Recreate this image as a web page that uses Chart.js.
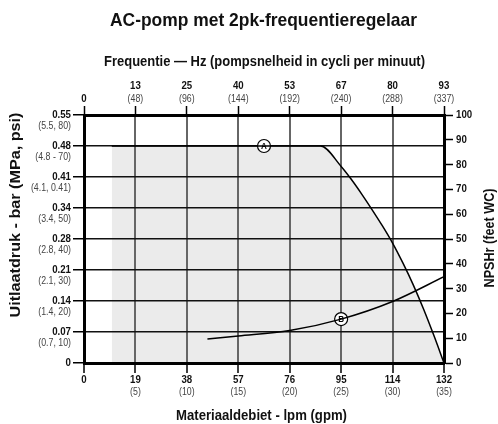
<!DOCTYPE html>
<html>
<head>
<meta charset="utf-8">
<script src="https://cdn.jsdelivr.net/npm/chart.js@4.4.0/dist/chart.umd.min.js"></script>
<style>
  html, body { margin: 0; padding: 0; background: #fff; }
  #wrap { width: 498px; height: 424px; }
</style>
</head>
<body>
<div id="wrap"><canvas id="myChart"></canvas></div>
<script>
const FONT = '"Liberation Sans", Arial, sans-serif';

// bottom axis is linear in gpm, labels show lpm with gpm underneath
const lpmLabels = ['0', '19', '38', '57', '76', '95', '114', '132'];
const gpmLabels = ['', '(5)', '(10)', '(15)', '(20)', '(25)', '(30)', '(35)'];
const hzLabels = ['0', '13', '25', '40', '53', '67', '80', '93'];
const cpmLabels = ['', '(48)', '(96)', '(144)', '(192)', '(240)', '(288)', '(337)'];
// left axis is linear in psi (0..80)
const barLabels = ['0', '0.07', '0.14', '0.21', '0.28', '0.34', '0.41', '0.48', '0.55'];
const mpaPsiLabels = ['', '(0.7, 10)', '(1.4, 20)', '(2.1, 30)', '(2.8, 40)', '(3.4, 50)', '(4.1, 0.41)', '(4.8 - 70)', '(5.5, 80)'];
const npshLabels = ['0', '10', '20', '30', '40', '50', '60', '70', '80', '90', '100'];

// curve A: outlet pressure (psi) vs flow (gpm)
const curveAx = [2.7, 23, 25, 26, 27, 28, 29, 30, 31, 32, 33, 34, 35];
const curveAy = [70, 70, 63.4, 59.2, 54.5, 49.5, 44.3, 38.7, 32.3, 25.3, 17.5, 9, 0];
// curve B: NPSHr (feet WC) vs flow (gpm)
const curveBx = [12, 15, 20, 25, 30, 35];
const curveBy = [9.7, 10.9, 13.1, 17.7, 24.8, 34.8];
// circled labels
const markerA = { x: 17.5, y: 70 };
const markerB = { x: 25, y: 17.7 };

const toPoints = (xs, ys) => xs.map((x, i) => ({ x: x, y: ys[i] }));

// condensed look: squeeze text horizontally
function drawText(c, text, x, y, font, squeeze, rot) {
    c.save();
    c.translate(x, y);
    if (rot) c.rotate(rot);
    c.scale(squeeze, 1);
    c.font = font;
    c.fillText(text, 0, 0);
    c.restore();
}
function fitText(c, text, x, y, font, width, rot) {
    c.font = font;
    drawText(c, text, x, y, font, width / c.measureText(text).width, rot);
}

const tickLabels = {
    id: 'tickLabels',
    afterDraw(chart) {
        const c = chart.ctx;
        const s = chart.scales;
        const bold = 'bold 11px ' + FONT;
        const small = '10px ' + FONT;
        const sq = 0.88;
        c.save();
        c.textBaseline = 'middle';
        // bottom
        c.textAlign = 'center';
        s.x.ticks.forEach((t, i) => {
            const px = s.x.getPixelForValue(t.value);
            c.fillStyle = '#111';
            drawText(c, lpmLabels[i], px, 380, bold, sq);
            c.fillStyle = '#444';
            drawText(c, gpmLabels[i], px, 392, small, sq);
        });
        // top
        s.x2.ticks.forEach((t, i) => {
            const px = s.x2.getPixelForValue(t.value);
            c.fillStyle = '#111';
            drawText(c, hzLabels[i], px, i === 0 ? 99 : 86, bold, sq);
            c.fillStyle = '#444';
            drawText(c, cpmLabels[i], px, 99, small, sq);
        });
        // left
        c.textAlign = 'right';
        s.y.ticks.forEach((t, i) => {
            const py = s.y.getPixelForValue(t.value);
            c.fillStyle = '#111';
            drawText(c, barLabels[i], 71, py, bold, sq);
            c.fillStyle = '#444';
            drawText(c, mpaPsiLabels[i], 71, py + 11, small, sq);
        });
        // right
        c.textAlign = 'left';
        s.y1.ticks.forEach((t, i) => {
            const py = s.y1.getPixelForValue(t.value);
            c.fillStyle = '#111';
            drawText(c, npshLabels[i], 456, py, bold, sq);
        });
        // titles
        c.fillStyle = '#111';
        c.textAlign = 'center';
        fitText(c, 'AC-pomp met 2pk-frequentieregelaar', 263.5, 21, 'bold 19px ' + FONT, 307);
        fitText(c, 'Frequentie — Hz (pompsnelheid in cycli per minuut)', 264.5, 61.5, 'bold 15px ' + FONT, 321);
        fitText(c, 'Materiaaldebiet - lpm (gpm)', 261.5, 415.5, 'bold 15px ' + FONT, 171);
        fitText(c, 'Uitlaatdruk - bar (MPa, psi)', 16, 215, 'bold 14.5px ' + FONT, 205, -Math.PI / 2);
        fitText(c, 'NPSHr (feet WC)', 490, 238, 'bold 15px ' + FONT, 99, -Math.PI / 2);
        c.restore();
    },
    afterDatasetsDraw(chart) {
        const c = chart.ctx;
        c.save();
        c.fillStyle = '#000';
        c.textAlign = 'center';
        c.textBaseline = 'middle';
        [[2, 'A'], [3, 'B']].forEach(([idx, letter]) => {
            const pt = chart.getDatasetMeta(idx).data[0];
            drawText(c, letter, pt.x, pt.y + 0.5, 'bold 9px ' + FONT, 0.9);
        });
        c.restore();
    }
};

const ctx = document.getElementById('myChart').getContext('2d');
const myChart = new Chart(ctx, {
    type: 'scatter',
    data: {
        datasets: [
            {
                label: 'A',
                data: toPoints(curveAx, curveAy),
                showLine: true,
                fill: 'origin',
                backgroundColor: '#ebebeb',
                borderColor: '#000',
                borderWidth: 1.5,
                pointRadius: 0,
                cubicInterpolationMode: 'monotone',
                yAxisID: 'y',
                xAxisID: 'x'
            },
            {
                label: 'B',
                data: toPoints(curveBx, curveBy),
                showLine: true,
                fill: false,
                borderColor: '#000',
                borderWidth: 1.5,
                pointRadius: 0,
                cubicInterpolationMode: 'monotone',
                yAxisID: 'y1',
                xAxisID: 'x'
            },
            {
                label: 'markerA',
                data: [markerA],
                pointRadius: 6.5,
                pointBackgroundColor: '#fff',
                pointBorderColor: '#000',
                pointBorderWidth: 1.2,
                yAxisID: 'y',
                xAxisID: 'x'
            },
            {
                label: 'markerB',
                data: [markerB],
                pointRadius: 6.5,
                pointBackgroundColor: '#fff',
                pointBorderColor: '#000',
                pointBorderWidth: 1.2,
                yAxisID: 'y1',
                xAxisID: 'x'
            }
        ]
    },
    options: {
        responsive: true,
        maintainAspectRatio: false,
        animation: false,
        layout: { padding: { top: 40 } },
        plugins: {
            legend: { display: false },
            tooltip: { enabled: false },
            filler: { drawTime: 'beforeDraw' },
            title: { display: false }
        },
        scales: {
            x: {
                type: 'linear',
                position: 'bottom',
                min: 0,
                max: 35,
                ticks: { stepSize: 5, display: false },
                grid: { color: '#666', lineWidth: 2, tickLength: 10, tickColor: '#000', tickWidth: 1.5 },
                border: { color: '#000', width: 3 },
                afterFit: s => { s.height = 61; }
            },
            x2: {
                type: 'linear',
                position: 'top',
                min: 0,
                max: 35,
                ticks: { stepSize: 5, display: false },
                grid: { drawOnChartArea: false, tickLength: 9, tickColor: '#000', tickWidth: 1.5 },
                border: { color: '#000', width: 3 },
                afterFit: s => { s.height = 75; }
            },
            y: {
                type: 'linear',
                position: 'left',
                min: 0,
                max: 80,
                ticks: { stepSize: 10, display: false },
                grid: { color: '#111', lineWidth: 1.5, tickLength: 11, tickColor: '#000', tickWidth: 1.5 },
                border: { color: '#000', width: 3 },
                afterFit: s => { s.width = 84; }
            },
            y1: {
                type: 'linear',
                position: 'right',
                min: 0,
                max: 100,
                ticks: { stepSize: 10, display: false },
                grid: { drawOnChartArea: false, tickLength: 9, tickColor: '#000', tickWidth: 1.5 },
                border: { color: '#000', width: 3 },
                afterFit: s => { s.width = 54; }
            }
        }
    },
    plugins: [tickLabels]
});
</script>
</body>
</html>
